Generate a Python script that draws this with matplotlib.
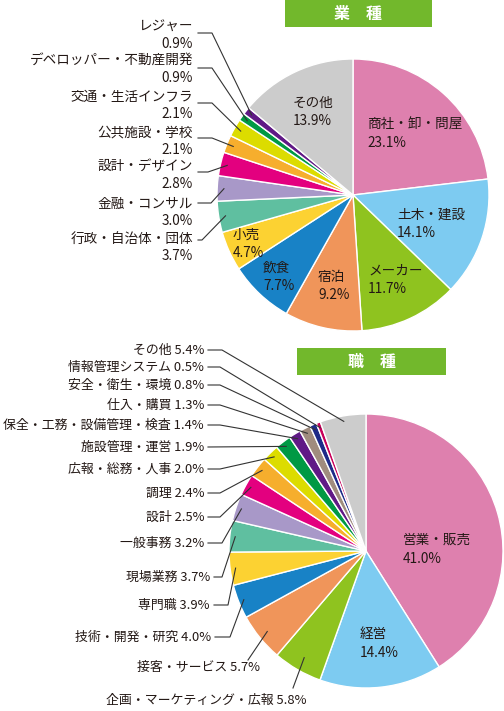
import numpy as np
import matplotlib
matplotlib.use('Agg')
import matplotlib.pyplot as plt
from matplotlib.patches import Rectangle
from matplotlib.lines import Line2D

plt.rcParams['font.family'] = ['Noto Sans CJK JP', 'DejaVu Sans']

W, H = 504, 711
TXT = '#231815'
HEAD = '#72b82c'

# 業種
ind_names = ['商社・卸・問屋', '土木・建設', 'メーカー', '宿泊', '飲食', '小売',
             '行政・自治体・団体', '金融・コンサル', '設計・デザイン', '公共施設・学校',
             '交通・生活インフラ', 'デベロッパー・不動産開発', 'レジャー', 'その他']
ind_values = [23.1, 14.1, 11.7, 9.2, 7.7, 4.7, 3.7, 3.0, 2.8, 2.1, 2.1, 0.9, 0.9, 13.9]
ind_colors = ['#de80ae', '#7dcbf1', '#8fc31f', '#f0955a', '#1882c6', '#fcd232',
              '#5fbfa0', '#a898c8', '#e3007f', '#f6ae2d', '#dcdc00', '#009944',
              '#601986', '#cccccc']

# 職種
job_names = ['営業・販売', '経営', '企画・マーケティング・広報', '接客・サービス',
             '技術・開発・研究', '専門職', '現場業務', '一般事務', '設計', '調理',
             '広報・総務・人事', '施設管理・運営', '保全・工務・設備管理・検査',
             '仕入・購買', '安全・衛生・環境', '情報管理システム', 'その他']
job_values = [41.0, 14.4, 5.8, 5.7, 4.0, 3.9, 3.7, 3.2, 2.5, 2.4, 2.0, 1.9, 1.4,
              1.3, 0.8, 0.5, 5.4]
job_colors = ['#de80ae', '#7dcbf1', '#8fc31f', '#f0955a', '#1882c6', '#fcd232',
              '#5fbfa0', '#a898c8', '#e3007f', '#f6ae2d', '#dcdc00', '#009944',
              '#601986', '#a08c7e', '#1d2a88', '#c8005a', '#cccccc']

FS = 9.8       # general label size
FS_LIST = 9.3  # long one-line labels of the lower chart


def fx(x):
    return x / W


def fy(y):
    return 1 - y / H


def draw_pie(fig, cx, cy, r, values, colors):
    ax = fig.add_axes([fx(cx - r), fy(cy + r), 2 * r / W, 2 * r / H])
    wedges, _ = ax.pie(values, colors=colors, startangle=90, counterclock=False,
                       wedgeprops=dict(edgecolor='white', linewidth=1.0))
    for w in wedges:
        w.set_clip_on(False)
    ax.set_xlim(-1, 1)
    ax.set_ylim(-1, 1)
    ax.axis('off')
    return ax, wedges


def wedge_point(fig, ax, w, rr):
    a = np.deg2rad((w.theta1 + w.theta2) / 2)
    disp = ax.transData.transform((rr * np.cos(a), rr * np.sin(a)))
    return fig.transFigure.inverted().transform(disp)


def leader(fig, pts, end):
    xs = [fx(p[0]) for p in pts] + [end[0]]
    ys = [fy(p[1]) for p in pts] + [end[1]]
    fig.add_artist(Line2D(xs, ys, color='#333333', lw=0.8))


def header(fig, x0, x1, y0, y1, text):
    fig.add_artist(Rectangle((fx(x0), fy(y1)), (x1 - x0) / W, (y1 - y0) / H,
                             facecolor=HEAD, edgecolor='none'))
    fig.text(fx((x0 + x1) / 2), fy((y0 + y1) / 2), text, color='white',
             fontsize=11.5, fontweight='bold', ha='center', va='center')


fig = plt.figure(figsize=(W / 100, H / 100), dpi=100)

# ---- 業種 ----
header(fig, 285, 432, 0, 27, '業　種')
ax1, w1 = draw_pie(fig, 353, 195, 136, ind_values, ind_colors)

# inside labels: index -> (left x, first line y)
ind_inside = {0: (367, 125), 1: (397, 215), 2: (368, 271), 3: (318, 277),
              4: (263, 268), 5: (233, 235), 13: (293, 103)}
for i, (x, y) in ind_inside.items():
    fig.text(fx(x), fy(y), ind_names[i], color=TXT, fontsize=FS, ha='left', va='center')
    fig.text(fx(x), fy(y + 18), f'{ind_values[i]:.1f}%', color=TXT, fontsize=FS,
             ha='left', va='center')

# outside labels: index -> (first line y, leader y, knee x)
ind_outside = {6: (239, 240, 202), 7: (204, 203, 211), 8: (167, 172, 208),
               9: (133, 138, 212), 10: (97, 103, 212), 11: (61, 68, 212),
               12: (27, 33, 212)}
for i, (y, ly, kx) in ind_outside.items():
    fig.text(fx(193), fy(y), ind_names[i], color=TXT, fontsize=FS, ha='right', va='center')
    fig.text(fx(193), fy(y + 17), f'{ind_values[i]:.1f}%', color=TXT, fontsize=FS,
             ha='right', va='center')
    leader(fig, [(198, ly), (kx, ly)], wedge_point(fig, ax1, w1[i], 0.95))

# ---- 職種 ----
header(fig, 297, 446, 348, 375, '職　種')
ax2, w2 = draw_pie(fig, 366, 551, 137, job_values, job_colors)

job_inside = {0: (403, 540), 1: (360, 634)}
for i, (x, y) in job_inside.items():
    fig.text(fx(x), fy(y), job_names[i], color=TXT, fontsize=FS, ha='left', va='center')
    fig.text(fx(x), fy(y + 19), f'{job_values[i]:.1f}%', color=TXT, fontsize=FS,
             ha='left', va='center')

# outside labels: index -> (text right x, y, knee x)
job_outside = {4: (211, 637, 230), 5: (210, 605, 228), 6: (210, 577, 222),
               7: (204, 543, 222), 8: (204, 517, 220), 9: (204, 493, 220),
               10: (204, 469, 220), 11: (204, 447, 208), 12: (204, 425, 220),
               13: (204, 405, 220), 14: (204, 385, 220), 15: (204, 367, 220),
               16: (204, 350, 222)}
for i, (x, y, kx) in job_outside.items():
    fig.text(fx(x), fy(y), f'{job_names[i]} {job_values[i]:.1f}%', color=TXT,
             fontsize=FS_LIST, ha='right', va='center')
    leader(fig, [(x + 4, y), (kx, y)], wedge_point(fig, ax2, w2[i], 0.96))

# the two lowest labels sit below their wedges
fig.text(fx(260), fy(667), f'{job_names[3]} {job_values[3]:.1f}%', color=TXT,
         fontsize=FS_LIST, ha='right', va='center')
leader(fig, [(248, 660)], wedge_point(fig, ax2, w2[3], 0.93))
fig.text(fx(206), fy(700), f'{job_names[2]} {job_values[2]:.1f}%', color=TXT,
         fontsize=FS_LIST, ha='center', va='center')
leader(fig, [(293, 688)], wedge_point(fig, ax2, w2[2], 0.9))

fig.savefig('out.png', dpi=100, facecolor='white')
